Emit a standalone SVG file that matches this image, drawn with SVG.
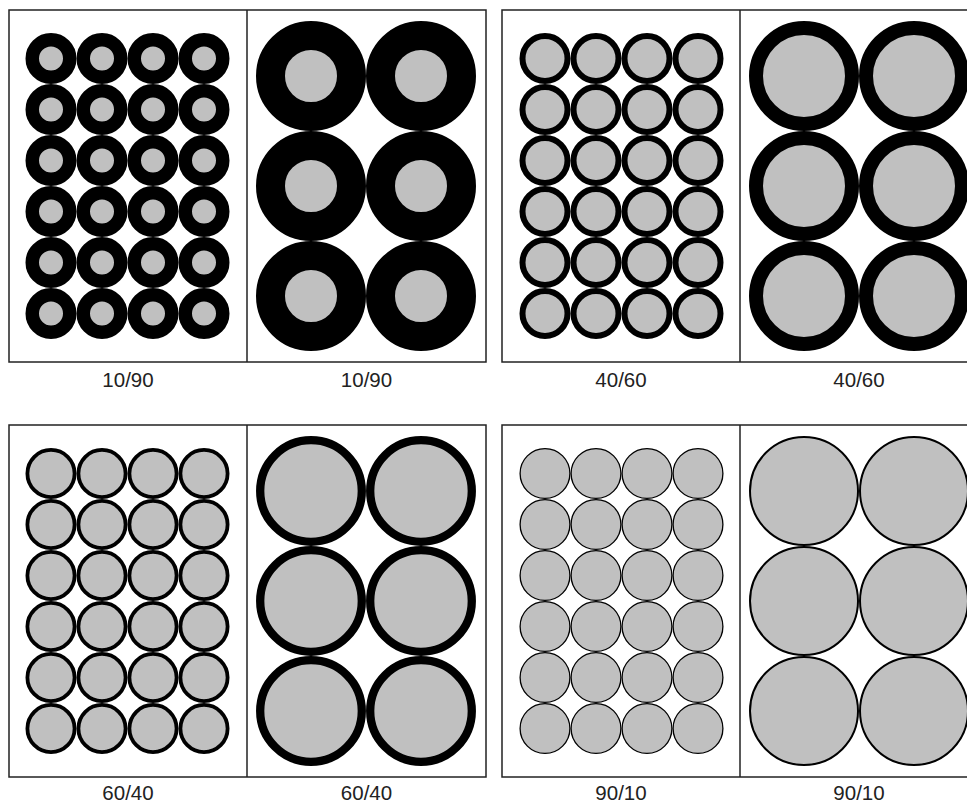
<svg xmlns="http://www.w3.org/2000/svg" width="967" height="803" viewBox="0 0 967 803">
<style>
.frame{fill:#fff;stroke:#222;stroke-width:1.5}
.div{stroke:#222;stroke-width:1.5}
circle{fill:#c0c0c0;stroke:#000}
.s1{stroke-width:13.5}
.s4{stroke-width:6}
.s6{stroke-width:3.8}
.s9{stroke-width:1.3}
.b1{stroke-width:29}
.b4{stroke-width:14}
.b6{stroke-width:8.3}
.b9{stroke-width:2}
text{font-family:"Liberation Sans",Arial,sans-serif;font-size:20.5px;fill:#222;text-anchor:middle}
</style>
<rect width="967" height="803" fill="#fff"/>
<g id="frames">
<rect class="frame" x="9" y="10" width="477" height="352"/>
<line class="div" x1="247" y1="10" x2="247" y2="362"/>
<rect class="frame" x="502" y="10" width="477" height="352"/>
<line class="div" x1="740" y1="10" x2="740" y2="362"/>
<rect class="frame" x="9" y="425" width="477" height="352"/>
<line class="div" x1="247" y1="425" x2="247" y2="777"/>
<rect class="frame" x="502" y="425" width="477" height="352"/>
<line class="div" x1="740" y1="425" x2="740" y2="777"/>
</g>

<g id="p1090s">
<g transform="translate(0,58.5)"><circle class="s1" cx="51" cy="0" r="18.75"/><circle class="s1" cx="102" cy="0" r="18.75"/><circle class="s1" cx="153" cy="0" r="18.75"/><circle class="s1" cx="204" cy="0" r="18.75"/></g>
<g transform="translate(0,109.5)"><circle class="s1" cx="51" cy="0" r="18.75"/><circle class="s1" cx="102" cy="0" r="18.75"/><circle class="s1" cx="153" cy="0" r="18.75"/><circle class="s1" cx="204" cy="0" r="18.75"/></g>
<g transform="translate(0,160.5)"><circle class="s1" cx="51" cy="0" r="18.75"/><circle class="s1" cx="102" cy="0" r="18.75"/><circle class="s1" cx="153" cy="0" r="18.75"/><circle class="s1" cx="204" cy="0" r="18.75"/></g>
<g transform="translate(0,211.5)"><circle class="s1" cx="51" cy="0" r="18.75"/><circle class="s1" cx="102" cy="0" r="18.75"/><circle class="s1" cx="153" cy="0" r="18.75"/><circle class="s1" cx="204" cy="0" r="18.75"/></g>
<g transform="translate(0,262.5)"><circle class="s1" cx="51" cy="0" r="18.75"/><circle class="s1" cx="102" cy="0" r="18.75"/><circle class="s1" cx="153" cy="0" r="18.75"/><circle class="s1" cx="204" cy="0" r="18.75"/></g>
<g transform="translate(0,313.5)"><circle class="s1" cx="51" cy="0" r="18.75"/><circle class="s1" cx="102" cy="0" r="18.75"/><circle class="s1" cx="153" cy="0" r="18.75"/><circle class="s1" cx="204" cy="0" r="18.75"/></g>
</g>
<g id="p1090b">
<circle class="b1" cx="311" cy="76" r="40.5"/><circle class="b1" cx="421" cy="76" r="40.5"/>
<circle class="b1" cx="311" cy="186" r="40.5"/><circle class="b1" cx="421" cy="186" r="40.5"/>
<circle class="b1" cx="311" cy="296" r="40.5"/><circle class="b1" cx="421" cy="296" r="40.5"/>
</g>

<g id="p4060s">
<g transform="translate(0,58.5)"><circle class="s4" cx="545" cy="0" r="22.5"/><circle class="s4" cx="596" cy="0" r="22.5"/><circle class="s4" cx="647" cy="0" r="22.5"/><circle class="s4" cx="698" cy="0" r="22.5"/></g>
<g transform="translate(0,109.5)"><circle class="s4" cx="545" cy="0" r="22.5"/><circle class="s4" cx="596" cy="0" r="22.5"/><circle class="s4" cx="647" cy="0" r="22.5"/><circle class="s4" cx="698" cy="0" r="22.5"/></g>
<g transform="translate(0,160.5)"><circle class="s4" cx="545" cy="0" r="22.5"/><circle class="s4" cx="596" cy="0" r="22.5"/><circle class="s4" cx="647" cy="0" r="22.5"/><circle class="s4" cx="698" cy="0" r="22.5"/></g>
<g transform="translate(0,211.5)"><circle class="s4" cx="545" cy="0" r="22.5"/><circle class="s4" cx="596" cy="0" r="22.5"/><circle class="s4" cx="647" cy="0" r="22.5"/><circle class="s4" cx="698" cy="0" r="22.5"/></g>
<g transform="translate(0,262.5)"><circle class="s4" cx="545" cy="0" r="22.5"/><circle class="s4" cx="596" cy="0" r="22.5"/><circle class="s4" cx="647" cy="0" r="22.5"/><circle class="s4" cx="698" cy="0" r="22.5"/></g>
<g transform="translate(0,313.5)"><circle class="s4" cx="545" cy="0" r="22.5"/><circle class="s4" cx="596" cy="0" r="22.5"/><circle class="s4" cx="647" cy="0" r="22.5"/><circle class="s4" cx="698" cy="0" r="22.5"/></g>
</g>
<g id="p4060b">
<circle class="b4" cx="804" cy="76" r="48"/><circle class="b4" cx="914" cy="76" r="48"/>
<circle class="b4" cx="804" cy="186" r="48"/><circle class="b4" cx="914" cy="186" r="48"/>
<circle class="b4" cx="804" cy="296" r="48"/><circle class="b4" cx="914" cy="296" r="48"/>
</g>

<g id="p6040s">
<g transform="translate(0,473.5)"><circle class="s6" cx="51" cy="0" r="23.6"/><circle class="s6" cx="102" cy="0" r="23.6"/><circle class="s6" cx="153" cy="0" r="23.6"/><circle class="s6" cx="204" cy="0" r="23.6"/></g>
<g transform="translate(0,524.5)"><circle class="s6" cx="51" cy="0" r="23.6"/><circle class="s6" cx="102" cy="0" r="23.6"/><circle class="s6" cx="153" cy="0" r="23.6"/><circle class="s6" cx="204" cy="0" r="23.6"/></g>
<g transform="translate(0,575.5)"><circle class="s6" cx="51" cy="0" r="23.6"/><circle class="s6" cx="102" cy="0" r="23.6"/><circle class="s6" cx="153" cy="0" r="23.6"/><circle class="s6" cx="204" cy="0" r="23.6"/></g>
<g transform="translate(0,626.5)"><circle class="s6" cx="51" cy="0" r="23.6"/><circle class="s6" cx="102" cy="0" r="23.6"/><circle class="s6" cx="153" cy="0" r="23.6"/><circle class="s6" cx="204" cy="0" r="23.6"/></g>
<g transform="translate(0,677.5)"><circle class="s6" cx="51" cy="0" r="23.6"/><circle class="s6" cx="102" cy="0" r="23.6"/><circle class="s6" cx="153" cy="0" r="23.6"/><circle class="s6" cx="204" cy="0" r="23.6"/></g>
<g transform="translate(0,728.5)"><circle class="s6" cx="51" cy="0" r="23.6"/><circle class="s6" cx="102" cy="0" r="23.6"/><circle class="s6" cx="153" cy="0" r="23.6"/><circle class="s6" cx="204" cy="0" r="23.6"/></g>
</g>
<g id="p6040b">
<circle class="b6" cx="311" cy="491" r="50.8"/><circle class="b6" cx="421" cy="491" r="50.8"/>
<circle class="b6" cx="311" cy="601" r="50.8"/><circle class="b6" cx="421" cy="601" r="50.8"/>
<circle class="b6" cx="311" cy="711" r="50.8"/><circle class="b6" cx="421" cy="711" r="50.8"/>
</g>

<g id="p9010s">
<g transform="translate(0,473.5)"><circle class="s9" cx="545" cy="0" r="24.9"/><circle class="s9" cx="596" cy="0" r="24.9"/><circle class="s9" cx="647" cy="0" r="24.9"/><circle class="s9" cx="698" cy="0" r="24.9"/></g>
<g transform="translate(0,524.5)"><circle class="s9" cx="545" cy="0" r="24.9"/><circle class="s9" cx="596" cy="0" r="24.9"/><circle class="s9" cx="647" cy="0" r="24.9"/><circle class="s9" cx="698" cy="0" r="24.9"/></g>
<g transform="translate(0,575.5)"><circle class="s9" cx="545" cy="0" r="24.9"/><circle class="s9" cx="596" cy="0" r="24.9"/><circle class="s9" cx="647" cy="0" r="24.9"/><circle class="s9" cx="698" cy="0" r="24.9"/></g>
<g transform="translate(0,626.5)"><circle class="s9" cx="545" cy="0" r="24.9"/><circle class="s9" cx="596" cy="0" r="24.9"/><circle class="s9" cx="647" cy="0" r="24.9"/><circle class="s9" cx="698" cy="0" r="24.9"/></g>
<g transform="translate(0,677.5)"><circle class="s9" cx="545" cy="0" r="24.9"/><circle class="s9" cx="596" cy="0" r="24.9"/><circle class="s9" cx="647" cy="0" r="24.9"/><circle class="s9" cx="698" cy="0" r="24.9"/></g>
<g transform="translate(0,728.5)"><circle class="s9" cx="545" cy="0" r="24.9"/><circle class="s9" cx="596" cy="0" r="24.9"/><circle class="s9" cx="647" cy="0" r="24.9"/><circle class="s9" cx="698" cy="0" r="24.9"/></g>
</g>
<g id="p9010b">
<circle class="b9" cx="804" cy="491" r="54"/><circle class="b9" cx="914" cy="491" r="54"/>
<circle class="b9" cx="804" cy="601" r="54"/><circle class="b9" cx="914" cy="601" r="54"/>
<circle class="b9" cx="804" cy="711" r="54"/><circle class="b9" cx="914" cy="711" r="54"/>
</g>

<g id="labels">
<text x="128" y="386.5">10/90</text>
<text x="366.5" y="386.5">10/90</text>
<text x="621" y="386.5">40/60</text>
<text x="859" y="386.5">40/60</text>
<text x="128" y="800">60/40</text>
<text x="366.5" y="800">60/40</text>
<text x="621" y="800">90/10</text>
<text x="859" y="800">90/10</text>
</g>
</svg>
